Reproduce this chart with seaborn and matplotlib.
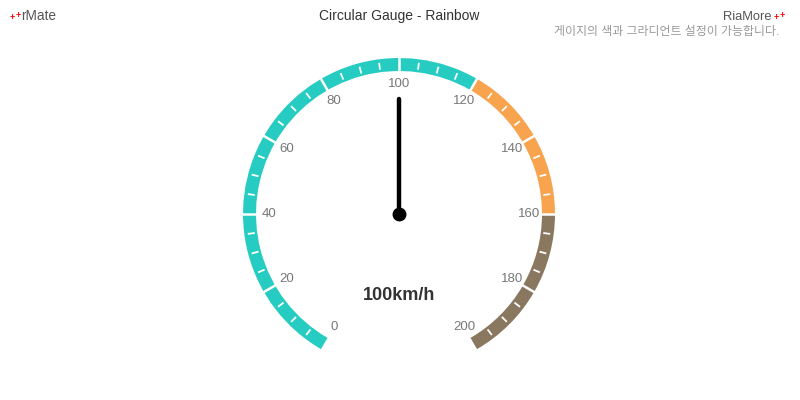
import matplotlib
matplotlib.use('Agg')
import matplotlib.pyplot as plt
import seaborn as sns
import numpy as np
import pandas as pd

# gauge data
gauge_min = 0
gauge_max = 200
band_starts = [0, 120, 160]
band_ends = [120, 160, 200]
band_colors = ['#26ccc1', '#f8a34e', '#8a7760']
major_ticks = [0, 20, 40, 60, 80, 100, 120, 140, 160, 180, 200]
minor_step = 5
needle_value = 100
unit_text = 'km/h'

title = 'Circular Gauge - Rainbow'
subtitle = '게이지의 색과 그라디언트 설정이 가능합니다.'

sns.set_style('white')
plt.rcParams['font.family'] = ['Liberation Sans', 'Noto Sans CJK KR', 'DejaVu Sans']

fig = plt.figure(figsize=(8, 4), dpi=100)
fig.patch.set_facecolor('white')

# polar axes: centre at (399, 214) px, radius 160 px
R = 160
ax = fig.add_axes([(399 - R) / 800, (400 - 214 - R) / 400, 2 * R / 800, 2 * R / 400], projection='polar')
ax.set_theta_offset(np.radians(240))  # value 0 sits at lower left
ax.set_theta_direction(-1)
ax.set_ylim(0, R)
ax.axis('off')

sweep = 300.0 / (gauge_max - gauge_min)  # degrees per unit
def th(v):
    return np.radians((v - gauge_min) * sweep)

r_in, r_out = 143, 156

# coloured bands
for s, e, c in zip(band_starts, band_ends, band_colors):
    ax.bar(x=(th(s) + th(e)) / 2, height=r_out - r_in, width=th(e) - th(s), bottom=r_in,
           color=c, linewidth=0, align='center')

# major ticks as white gaps through the band
for v in major_ticks[1:-1]:
    ax.plot([th(v), th(v)], [r_in - 1, r_out + 1], color='white', lw=1.8, solid_capstyle='butt')

# minor ticks
for v in range(gauge_min, gauge_max, minor_step):
    if v % 20 == 0:
        continue
    ax.plot([th(v), th(v)], [145.5, 152.5], color='white', lw=1.3, solid_capstyle='butt')

# tick labels
for v in major_ticks:
    ax.text(th(v), 130, str(v), ha='center', va='center', fontsize=9.5, color='#777777')

# needle
needle = pd.DataFrame({'theta': [th(needle_value), th(needle_value)], 'r': [0, 115]})
sns.lineplot(data=needle, x='theta', y='r', ax=ax, color='black', lw=3.2,
             sort=False, estimator=None)
ax.plot([th(needle_value)], [0], 'o', color='black', markersize=9)
ax.set_ylim(0, R)

# value text
fig.text(399 / 800, 1 - 295 / 400, f'{needle_value}{unit_text}', ha='center', va='center',
         fontsize=13, fontweight='bold', color='#333333')

# header texts
fig.text(399 / 800, 1 - 16 / 400, title, ha='center', va='center', fontsize=10, color='#333333')
fig.text(21 / 800, 1 - 20 / 400, 'rMate', ha='left', va='baseline', fontsize=9.8, color='#555555')
fig.text(12 / 800, 1 - 17.7 / 400, '+', ha='center', va='center', fontsize=6.5, color='red', fontweight='bold')
fig.text(18 / 800, 1 - 15.3 / 400, '+', ha='center', va='center', fontsize=6.5, color='red', fontweight='bold')
fig.text(771 / 800, 1 - 19.5 / 400, 'RiaMore', ha='right', va='baseline', fontsize=9.3, color='#555555')
fig.text(776.5 / 800, 1 - 17.7 / 400, '+', ha='center', va='center', fontsize=6.5, color='red', fontweight='bold')
fig.text(782.5 / 800, 1 - 15.3 / 400, '+', ha='center', va='center', fontsize=6.5, color='red', fontweight='bold')
fig.text(779 / 800, 1 - 32 / 400, subtitle, ha='right', va='center', fontsize=8.6, color='#999999')

plt.savefig('out.png', dpi=100)
